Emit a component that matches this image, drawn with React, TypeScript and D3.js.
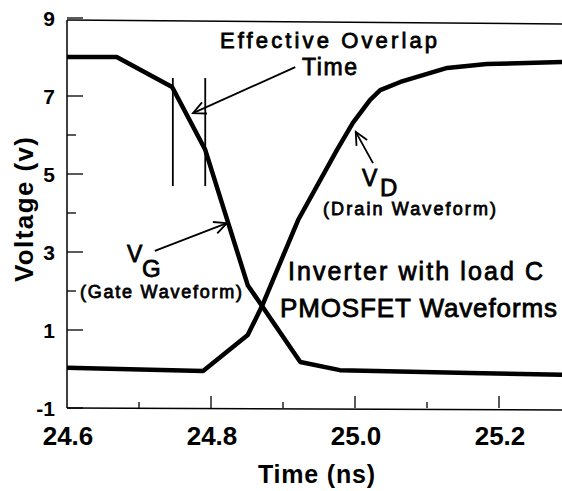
import * as d3 from 'd3';

// gate waveform V_G (ns, volts)
const gateTime = [24.6, 24.669, 24.746, 24.792, 24.851, 24.924, 24.979, 25.16, 25.2875];
const gateVolt = [8.0, 8.0, 7.23, 5.62, 2.15, 0.18, -0.03, -0.1, -0.15];

// drain waveform V_D
const drainTime = [24.6, 24.789, 24.851, 24.871, 24.921, 24.975, 24.997, 25.021, 25.035, 25.063, 25.128, 25.183, 25.2875];
const drainVolt = [0.03, -0.05, 0.87, 1.62, 3.82, 5.62, 6.31, 6.9, 7.15, 7.36, 7.72, 7.82, 7.87];

// effective overlap markers
const overlapTimes = [24.747, 24.792];
const overlapVolts = [4.69, 7.46];

const xMajorTicks = [24.6, 24.8, 25.0, 25.2];
const xMinorTicks = [24.7, 24.9, 25.1];
const xTickLabels = ['24.6', '24.8', '25.0', '25.2'];
const yMajorTicks = [-1, 1, 3, 5, 7, 9];
const yMinorTicks = [0, 2, 4, 6, 8];

const W = 562;
const H = 491;
const FONT = '"Liberation Sans", Arial, Helvetica, sans-serif';

const x = d3.scaleLinear().domain([24.6, 25.2875]).range([67, 562]);
const y = d3.scaleLinear().domain([-1, 9]).range([408, 18]);

const line = d3
  .line<[number, number]>()
  .x((d) => x(d[0]))
  .y((d) => y(d[1]));

const zip = (a: number[], b: number[]) => a.map((v, i) => [v, b[i]] as [number, number]);

// open arrow: shaft from (t0,v0) to tip (t1,v1)
const Arrow = ({ from, to }: { from: [number, number]; to: [number, number] }) => {
  const x0 = x(from[0]);
  const y0 = y(from[1]);
  const x1 = x(to[0]);
  const y1 = y(to[1]);
  const ang = Math.atan2(y0 - y1, x0 - x1);
  const len = 14;
  const spread = Math.PI / 7;
  const b1 = [x1 + len * Math.cos(ang - spread), y1 + len * Math.sin(ang - spread)];
  const b2 = [x1 + len * Math.cos(ang + spread), y1 + len * Math.sin(ang + spread)];
  return (
    <g stroke="#000" strokeWidth={1.8} fill="none">
      <line x1={x0} y1={y0} x2={x1} y2={y1} />
      <polyline points={`${b1[0]},${b1[1]} ${x1},${y1} ${b2[0]},${b2[1]}`} />
    </g>
  );
};

const annoStyle = {
  fontFamily: FONT,
  fill: '#000',
  stroke: '#000',
  strokeWidth: 0.8,
} as const;

export default function App() {
  const left = x(24.6);
  const right = W;
  const bottom = y(-1);
  const top = y(9) + 2;

  return (
    <svg
      width={W}
      height={H}
      style={{ position: 'absolute', left: 0, top: 0, background: '#fff' }}
    >
      <rect width={W} height={H} fill="#fff" />

      {/* frame */}
      <g stroke="#000" strokeWidth={1.5}>
        <line x1={left} y1={top} x2={right} y2={top + 4} />
        <line x1={left} y1={top} x2={left} y2={bottom} />
        <line x1={left} y1={bottom} x2={right} y2={bottom + 2} />
      </g>

      {/* ticks (inward) */}
      <g stroke="#000" strokeWidth={1.3}>
        {yMajorTicks.map((v) => (
          <line key={'ym' + v} x1={left} x2={left + 16} y1={y(v)} y2={y(v)} />
        ))}
        {yMinorTicks.map((v) => (
          <line key={'yn' + v} x1={left} x2={left + 9} y1={y(v)} y2={y(v)} />
        ))}
        {xMajorTicks.slice(1).map((t) => (
          <line key={'xm' + t} x1={x(t)} x2={x(t)} y1={bottom} y2={bottom - 12} />
        ))}
        {xMinorTicks.map((t) => (
          <line key={'xn' + t} x1={x(t)} x2={x(t)} y1={bottom} y2={bottom - 6} />
        ))}
      </g>

      {/* tick labels */}
      <g fontFamily={FONT} fontWeight="bold" fill="#000">
        {yMajorTicks.map((v) => (
          <text key={'yl' + v} x={55} y={y(v) + 7.5} fontSize={21} textAnchor="end">
            {v}
          </text>
        ))}
        {xMajorTicks.map((t, i) => (
          <text key={'xl' + t} x={x(t) + 1} y={445} fontSize={26} textAnchor="middle">
            {xTickLabels[i]}
          </text>
        ))}
        <text x={258} y={483} fontSize={25} textLength={117} lengthAdjust="spacing">
          Time  (ns)
        </text>
        <text
          transform="translate(33,282) rotate(-90)"
          fontSize={26}
          textLength={145}
          lengthAdjust="spacing"
        >
          Voltage  (v)
        </text>
      </g>

      {/* waveforms */}
      <path
        d={line(zip(gateTime, gateVolt)) || ''}
        fill="none"
        stroke="#000"
        strokeWidth={4.5}
        strokeLinejoin="round"
      />
      <path
        d={line(zip(drainTime, drainVolt)) || ''}
        fill="none"
        stroke="#000"
        strokeWidth={4.5}
        strokeLinejoin="round"
      />

      {/* effective overlap markers */}
      <g stroke="#000" strokeWidth={1.8}>
        {overlapTimes.map((t) => (
          <line key={'ov' + t} x1={x(t)} x2={x(t)} y1={y(overlapVolts[1])} y2={y(overlapVolts[0])} />
        ))}
      </g>

      <Arrow from={[24.917, 7.74]} to={[24.775, 6.56]} />
      <Arrow from={[25.025, 5.28]} to={[25.001, 6.08]} />
      <Arrow from={[24.722, 3.03]} to={[24.822, 3.74]} />

      {/* annotations */}
      <g style={annoStyle}>
        <text x={220} y={48} fontSize={22} textLength={217} lengthAdjust="spacing">
          Effective  Overlap
        </text>
        <text x={302} y={75} fontSize={23} textLength={55} lengthAdjust="spacing">
          Time
        </text>
        <text x={362} y={186} fontSize={23}>V</text>
        <text x={380} y={196} fontSize={24}>D</text>
        <text x={323} y={215} fontSize={18} textLength={173} lengthAdjust="spacing">
          (Drain  Waveform)
        </text>
        <text x={127} y={262} fontSize={23}>V</text>
        <text x={142} y={277} fontSize={24}>G</text>
        <text x={80} y={298} fontSize={18} textLength={162} lengthAdjust="spacing">
          (Gate  Waveform)
        </text>
        <text x={288} y={280} fontSize={25} textLength={255} lengthAdjust="spacing">
          Inverter  with  load  C
        </text>
        <text x={280} y={317} fontSize={26} textLength={277} lengthAdjust="spacing">
          PMOSFET  Waveforms
        </text>
      </g>
    </svg>
  );
}
